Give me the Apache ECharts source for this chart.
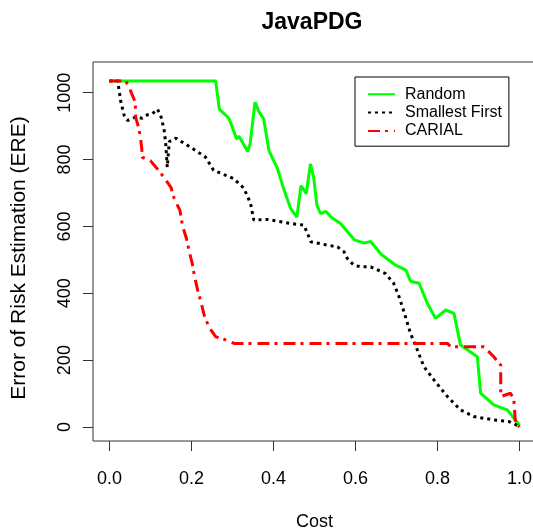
<!DOCTYPE html>
<html>
<head>
<meta charset="utf-8">
<script src="https://cdn.jsdelivr.net/npm/echarts@6/dist/echarts.min.js"></script>
<style>
  html, body { margin: 0; padding: 0; background: #fff; }
  #chart { width: 533px; height: 531px; }
</style>
</head>
<body>
<div id="chart"></div>
<script>
// values
var xTicks = [0, 0.2, 0.4, 0.6, 0.8, 1.0];
var yTicks = [0, 200, 400, 600, 800, 1000];

var randomCost = [0, 0.259, 0.268, 0.28, 0.292, 0.31, 0.316, 0.337, 0.343, 0.355, 0.365, 0.376, 0.389, 0.41, 0.426, 0.442, 0.457, 0.467, 0.475, 0.48, 0.49, 0.498, 0.506, 0.515, 0.528, 0.54, 0.564, 0.597, 0.621, 0.637, 0.663, 0.698, 0.723, 0.734, 0.755, 0.775, 0.795, 0.82, 0.84, 0.856, 0.897, 0.905, 0.937, 0.97, 1.0];
var randomEre = [1035, 1035, 951, 937, 922, 862, 870, 824, 847, 972, 942, 922, 827, 772, 708, 653, 628, 722, 708, 698, 787, 747, 663, 638, 645, 628, 608, 560, 550, 555, 516, 484, 469, 436, 430, 370, 325, 350, 340, 245, 210, 101, 66, 51, 5];

var smallCost = [0, 0.022, 0.022, 0.028, 0.036, 0.044, 0.064, 0.08, 0.093, 0.105, 0.117, 0.125, 0.133, 0.137, 0.141, 0.143, 0.146, 0.162, 0.19, 0.234, 0.254, 0.303, 0.328, 0.344, 0.352, 0.385, 0.441, 0.474, 0.483, 0.491, 0.532, 0.556, 0.572, 0.58, 0.596, 0.613, 0.637, 0.673, 0.693, 0.706, 0.718, 0.734, 0.746, 0.767, 0.791, 0.824, 0.856, 0.889, 0.937, 0.974, 1.0];
var smallEre = [1035, 1035, 1021, 972, 932, 917, 927, 924, 934, 937, 951, 932, 892, 852, 777, 780, 854, 864, 843, 808, 768, 743, 714, 669, 619, 621, 609, 604, 579, 554, 544, 539, 524, 504, 484, 479, 479, 459, 430, 390, 345, 280, 245, 180, 141, 91, 51, 31, 21, 16, 2];

var carialCost = [0, 0.04, 0.048, 0.063, 0.064, 0.072, 0.076, 0.079, 0.08, 0.1, 0.117, 0.133, 0.15, 0.158, 0.172, 0.178, 0.188, 0.194, 0.202, 0.207, 0.215, 0.223, 0.231, 0.243, 0.259, 0.28, 0.304, 0.824, 0.832, 0.913, 0.937, 0.954, 0.954, 0.978, 0.986, 0.99, 1.0];
var carialEre = [1035, 1035, 1016, 972, 927, 892, 862, 832, 807, 797, 772, 747, 717, 683, 648, 603, 563, 528, 489, 454, 410, 375, 335, 298, 270, 262, 250, 250, 240, 240, 210, 185, 91, 101, 81, 11, 0];

function pairs(xs, ys){
  var out = [];
  for (var i = 0; i < xs.length; i++) out.push([xs[i], ys[i]]);
  return out;
}

var font = 'Liberation Sans, Arial, sans-serif';
var chart = echarts.init(document.getElementById('chart'), null, { renderer: 'canvas' });

chart.setOption({
  animation: false,
  backgroundColor: '#fff',
  title: {
    text: 'JavaPDG',
    left: 307, top: 6, textAlign: 'center',
    textStyle: { fontFamily: font, fontSize: 23, fontWeight: 'bold', color: '#000' }
  },
  legend: {
    orient: 'vertical',
    left: 355, top: 77,
    padding: [8, 7, 6, 12],
    borderColor: '#000', borderWidth: 1,
    itemWidth: 27, itemHeight: 18, itemGap: 0,
    itemStyle: { opacity: 0 },
    textStyle: { fontFamily: font, fontSize: 16, lineHeight: 18.4, color: '#000', padding: [0, 0, 0, 5] },
    data: ['Random', 'Smallest First', 'CARIAL']
  },
  grid: {
    left: 93, top: 62, width: 443, height: 379,
    outerBoundsMode: 'none',
    show: true, borderColor: '#333', borderWidth: 1, backgroundColor: 'transparent'
  },
  xAxis: {
    type: 'value', min: -0.04, max: 1.04,
    name: 'Cost', nameLocation: 'middle', nameGap: 72,
    nameTextStyle: { fontFamily: font, fontSize: 18, color: '#000' },
    axisLine: { show: false, onZero: false },
    splitLine: { show: false },
    axisTick: { show: true, inside: false, length: 10, customValues: xTicks, lineStyle: { color: '#333' } },
    axisLabel: {
      customValues: xTicks, margin: 29,
      fontFamily: font, fontSize: 18, color: '#000',
      formatter: function(v){ return v.toFixed(1); }
    }
  },
  yAxis: {
    type: 'value', min: -42, max: 1092,
    name: 'Error of Risk Estimation (ERE)', nameLocation: 'middle', nameGap: 63, nameRotate: 90,
    nameTextStyle: { fontFamily: font, fontSize: 21, color: '#000', padding: [0, 13, 0, 0] },
    axisLine: { show: false, onZero: false },
    splitLine: { show: false },
    axisTick: { show: true, inside: false, length: 10, customValues: yTicks, lineStyle: { color: '#333' } },
    axisLabel: {
      customValues: yTicks, rotate: 90, margin: 19,
      fontFamily: font, fontSize: 18, color: '#000',
      formatter: function(v){ return String(v); }
    }
  },
  series: [
    {
      name: 'Random', type: 'line', showSymbol: false, symbol: 'none',
      data: pairs(randomCost, randomEre),
      lineStyle: { color: '#00ff00', width: 3, type: 'solid' },
      itemStyle: { color: '#00ff00' }
    },
    {
      name: 'Smallest First', type: 'line', showSymbol: false, symbol: 'none',
      data: pairs(smallCost, smallEre),
      lineStyle: { color: '#000', width: 3, type: [3, 4] },
      itemStyle: { color: '#000' }
    },
    {
      name: 'CARIAL', type: 'line', showSymbol: false, symbol: 'none',
      data: pairs(carialCost, carialEre),
      lineStyle: { color: '#ff0000', width: 3, type: [12, 5, 3, 6] },
      itemStyle: { color: '#ff0000' }
    }
  ]
});
</script>
</body>
</html>
